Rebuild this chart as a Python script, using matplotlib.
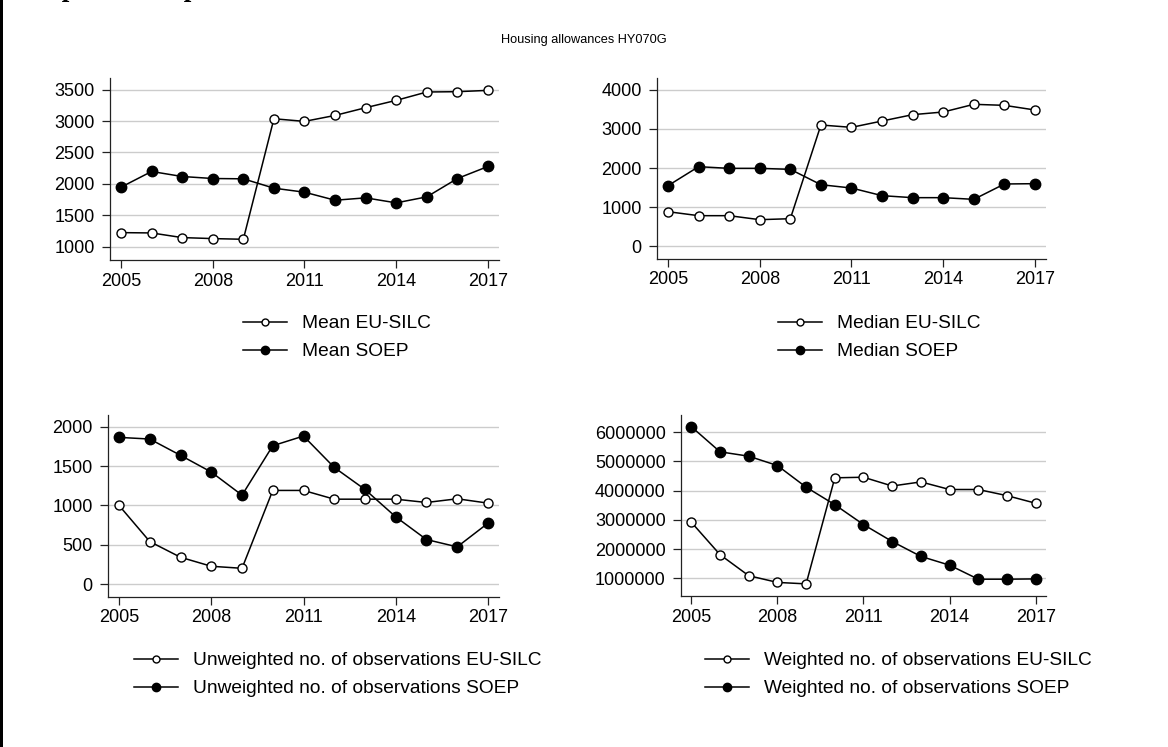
import matplotlib
matplotlib.use("Agg")
import matplotlib.pyplot as plt
from matplotlib.patches import Rectangle
from matplotlib.lines import Line2D

# years on the x axis
years = list(range(2005, 2018))
year_ticks = [2005, 2008, 2011, 2014, 2017]

# mean housing allowances
mean_silc = [1223, 1218, 1144, 1128, 1117, 3037, 2995, 3090, 3213, 3330, 3463, 3468, 3489]
mean_soep = [1947, 2197, 2117, 2085, 2080, 1931, 1867, 1739, 1777, 1697, 1793, 2085, 2277]

# median housing allowances
median_silc = [885, 783, 783, 681, 706, 3098, 3038, 3200, 3362, 3430, 3626, 3600, 3481]
median_soep = [1549, 2034, 1991, 1991, 1966, 1574, 1489, 1294, 1243, 1243, 1200, 1592, 1600]

# unweighted number of observations
unw_silc = [1000, 542, 343, 229, 203, 1191, 1191, 1080, 1080, 1080, 1038, 1085, 1030]
unw_soep = [1864, 1843, 1636, 1424, 1131, 1758, 1881, 1483, 1203, 856, 568, 475, 775]

# weighted number of observations
w_silc = [2920000, 1810000, 1090000, 860000, 810000, 4440000, 4460000, 4160000, 4300000,
          4040000, 4040000, 3830000, 3570000]
w_soep = [6190000, 5330000, 5180000, 4860000, 4120000, 3520000, 2840000, 2260000, 1750000,
          1450000, 970000, 970000, 980000]

mean_labels = ["Mean EU-SILC", "Mean SOEP"]
median_labels = ["Median EU-SILC", "Median SOEP"]
unw_labels = ["Unweighted no. of observations EU-SILC", "Unweighted no. of observations SOEP"]
w_labels = ["Weighted no. of observations EU-SILC", "Weighted no. of observations SOEP"]

plt.rcParams['font.family'] = ['Liberation Sans', 'DejaVu Sans']

W, H = 1168, 747
fig = plt.figure(figsize=(W / 100, H / 100), dpi=100)
fig.patch.set_facecolor('white')


def px_rect(left, top, right, bottom):
    # pixel box -> figure fraction
    return [left / W, 1 - bottom / H, (right - left) / W, (bottom - top) / H]


def panel(box, silc, soep, yticks, ylim, labels, leg_x, leg_y):
    ax = fig.add_axes(px_rect(*box))
    ax.plot(years, silc, color='black', lw=1.1, marker='o', ms=6.5,
            mfc='white', mec='black', mew=1.0, zorder=3)
    ax.plot(years, soep, color='black', lw=1.1, marker='o', ms=7.5,
            mfc='black', mec='black', zorder=3)
    ax.set_xlim(2004.64, 2017.36)
    ax.set_ylim(*ylim)
    ax.set_xticks(year_ticks)
    ax.set_yticks(yticks)
    ax.set_yticklabels([str(v) for v in yticks])
    ax.grid(axis='y', color='#cccccc', lw=1.0)
    ax.set_axisbelow(True)
    for s in ['top', 'right']:
        ax.spines[s].set_visible(False)
    for s in ['left', 'bottom']:
        ax.spines[s].set_color('#222222')
        ax.spines[s].set_linewidth(0.9)
    ax.tick_params(direction='out', length=6, width=0.9, color='#222222',
                   labelsize=13)
    ax.tick_params(axis='x', pad=3)
    ax.tick_params(axis='y', pad=5)
    handles = [
        Line2D([], [], color='black', lw=1.1, marker='o', ms=5, mfc='white', mec='black'),
        Line2D([], [], color='black', lw=1.1, marker='o', ms=6, mfc='black', mec='black'),
    ]
    fig.legend(handles, labels, loc='upper left', bbox_to_anchor=(leg_x / W, 1 - leg_y / H),
               frameon=False, fontsize=13.8, handlelength=2.3, handletextpad=0.8,
               labelspacing=0.55, borderpad=0, borderaxespad=0)
    return ax


panel((110, 78, 499, 260), mean_silc, mean_soep, [1000, 1500, 2000, 2500, 3000, 3500],
      (787, 3686), mean_labels, 243, 315)
panel((657, 78, 1046, 259), median_silc, median_soep, [0, 1000, 2000, 3000, 4000],
      (-323, 4298), median_labels, 778, 315)
panel((108, 415, 499, 597), unw_silc, unw_soep, [0, 500, 1000, 1500, 2000],
      (-161, 2148), unw_labels, 134, 652)
panel((681, 415, 1046, 596), w_silc, w_soep,
      [1000000, 2000000, 3000000, 4000000, 5000000, 6000000],
      (395000, 6590000), w_labels, 705, 652)

fig.text(584 / W, 1 - 40 / H, "Housing allowances HY070G", ha='center', va='center',
         fontsize=9.2)

# heading of the page, cut off at the top edge (only the descenders show)
fig.text(15 / W, 1 + 4 / H, "Graph 9: Comparison of EU-SILC and SOEP", ha='left',
         va='baseline', fontsize=19.5, fontweight='bold', family='Liberation Serif')

# page border on the left
fig.add_artist(Rectangle((0, 0), 3 / W, 1, transform=fig.transFigure,
                         facecolor='black', edgecolor='none'))

fig.savefig("out.png", dpi=100)
